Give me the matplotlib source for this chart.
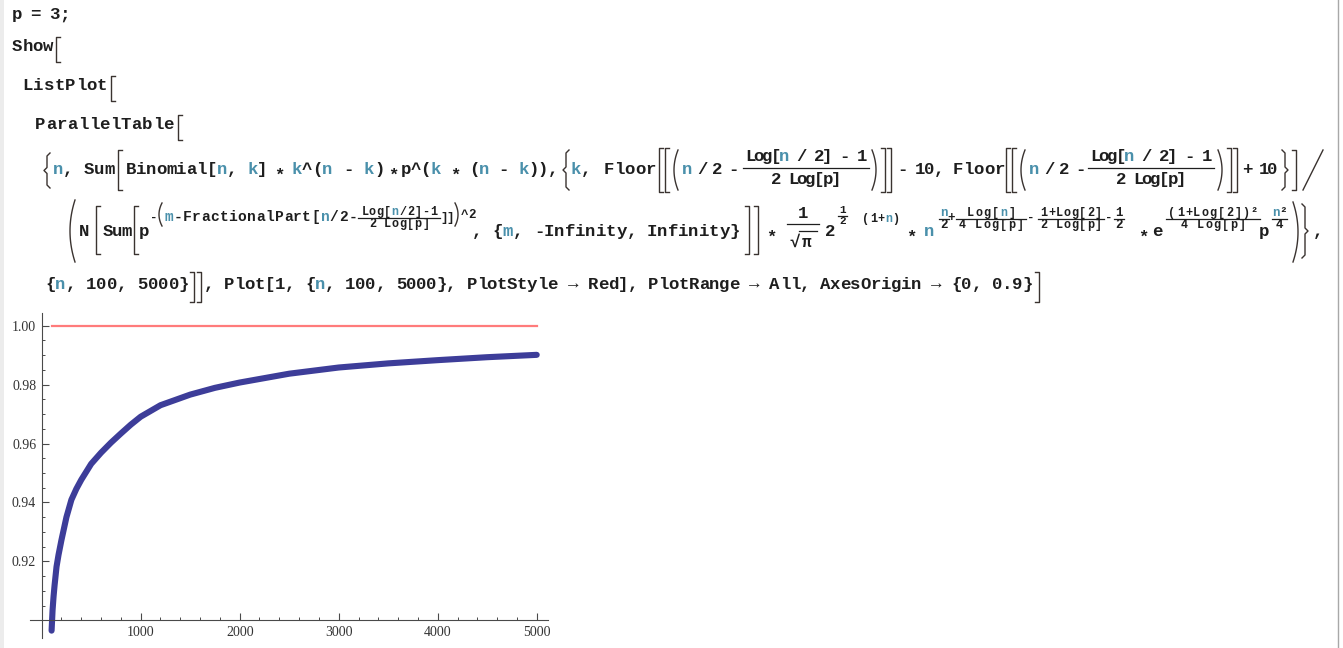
import numpy as np
import matplotlib.pyplot as plt
from matplotlib.ticker import FixedLocator

# значения
n_vals = [100, 110, 120, 130, 150, 170, 200, 250, 300, 350, 400, 500, 600,
          700, 800, 900, 1000, 1200, 1500, 1750, 2000, 2500, 3000, 3500,
          4000, 4500, 5000]
ratio = [0.8965, 0.9035, 0.9081, 0.9118, 0.9182, 0.9222, 0.9273, 0.9350,
         0.9409, 0.9446, 0.9477, 0.9531, 0.9569, 0.9603, 0.9634, 0.9664,
         0.9691, 0.9730, 0.9766, 0.9789, 0.9807, 0.9837, 0.9858, 0.9872,
         0.9883, 0.9893, 0.9901]
ref_x = [100, 5000]
ref_y = [1.0, 1.0]
x_ticks = [1000, 2000, 3000, 4000, 5000]
y_ticks = [0.92, 0.94, 0.96, 0.98, 1.00]
y_labels = ["0.92", "0.94", "0.96", "0.98", "1.00"]

W, H = 1343, 648
fig = plt.figure(figsize=(W / 100, H / 100), dpi=100, facecolor="white")

# слой для текста ячейки, координаты в пикселях
tx = fig.add_axes([0, 0, 1, 1])
tx.set_xlim(0, W)
tx.set_ylim(H, 0)
tx.axis("off")

INK = "#1e1e1e"
TEAL = "#4a90ab"
BRK = "#3a3330"
MONO = ["Liberation Mono", "DejaVu Sans Mono"]
NS, NP = 12.5, 10.2    # обычный текст: размер, шаг
SS = 9.0               # степени


def txt(x, y, s, size=NS, pitch=NP):
    teal = False
    for ch in s:
        if ch == "`":
            teal = not teal
            continue
        if ch != " ":
            dy = size * 0.45 if ch == "*" else 0
            tx.text(x + pitch / 2, y + dy, ch, ha="center", va="baseline",
                    fontsize=size, family=MONO, weight="bold",
                    color=TEAL if teal else INK)
        x += pitch
    return x


def big(x, y0, y1, kind, w=4.0, lw=1.0):
    if kind == "[":
        tx.plot([x + w, x, x, x + w], [y0, y0, y1, y1], color=BRK, lw=lw)
    elif kind == "]":
        tx.plot([x, x + w, x + w, x], [y0, y0, y1, y1], color=BRK, lw=lw)
    elif kind in "()":
        t = np.linspace(-1, 1, 40)
        ys = (y0 + y1) / 2 + t * (y1 - y0) / 2
        xs = x + w * t ** 2 if kind == "(" else x + w * (1 - t ** 2)
        tx.plot(xs, ys, color=BRK, lw=lw)
    elif kind in "{}":
        ym = (y0 + y1) / 2
        a, b = (x + w, x) if kind == "{" else (x, x + w)
        m = (a + b) / 2
        tx.plot([a, m, m, b, m, m, a],
                [y0, y0 + 3, ym - 3, ym, ym + 3, y1 - 3, y1], color=BRK, lw=lw)
    elif kind == "/":
        tx.plot([x, x + w], [y1, y0], color=BRK, lw=lw)


def frac(x, w, axis, num, den, size, pitch, up, down, lw=0.9):
    n = len(num.replace("`", "")) * pitch
    d = len(den.replace("`", "")) * pitch
    txt(x + (w - n) / 2, axis - up, num, size, pitch)
    txt(x + (w - d) / 2, axis + down, den, size, pitch)
    tx.plot([x, x + w], [axis, axis], color=INK, lw=lw)


# рамка ячейки
tx.fill_between([0, 4], 0, H, color="#ececec", lw=0)
tx.plot([1338, 1338], [0, H], color="#a8a8a8", lw=1)

# строки 1-4
txt(12, 19, "p = 3;", pitch=9.5)
txt(12, 51, "Show", pitch=10.3)
big(56, 37, 62, "[")
txt(22, 90, "ListPlot", pitch=10.7)
big(111, 76, 101, "[")
txt(35, 129, "ParallelTable", pitch=10.7)
big(178, 115, 140, "[")

# строка 5
y5, a5 = 174, 168
big(44, 153, 188, "{", w=6)
txt(53, y5, "`n`,")
txt(84, y5, "Sum")
big(118, 150, 190, "[")
txt(126, y5, "Binomial[`n`, `k`]", pitch=10.1)
txt(274, y5, "*")
txt(291, y5, "`k`^(`n` - `k`)", pitch=10.4)
txt(388, y5, "*")
txt(401, y5, "p^(`k` * (`n` - `k`)),", pitch=9.8)
big(563, 150, 190, "{", w=6)
txt(571, y5, "`k`,")
for f0 in (604, 953):
    txt(f0, y5, "Floor", pitch=10.3)
fr5 = [(659, 743, 870), (1006, 1088, 1216)]
for b0, fx, cx in fr5:
    big(b0, 148, 192, "[")
    big(b0 + 6, 148, 192, "[")
    big(b0 + 15, 150, 190, "(")
    txt(b0 + 24, y5, "`n` / 2 -", pitch=7.7)
    frac(fx, 126, a5, "Log[`n` / 2] - 1", "2 Log[p]", NS, 8.6, 7, 16)
    big(cx + 2, 150, 190, ")")
    big(cx + 11, 148, 192, "]")
    big(cx + 17, 148, 192, "]")
txt(898, y5, "- 10,", pitch=9.0)
txt(1243, y5, "+ 10", pitch=8.4)
big(1282, 150, 190, "}", w=6)
big(1292, 150, 190, "]")
big(1303, 150, 190, "/", w=20)

# строка 6
y6, ex = 236, 219
big(70, 200, 262, "(", w=5)
txt(79, y6, "N", pitch=11)
big(96, 206, 254, "[")
txt(103, y6, "Sum", pitch=9.5)
big(134, 206, 254, "[")
txt(138, y6, "p", pitch=11)
txt(150, ex + 2, "-", SS, 7)
big(159, 203, 226, "(", w=3)
txt(164, ex + 2, "`m`-FractionalPart[`n`/2-", 10.5, 9.2)
frac(358, 82, ex - 1, "Log[`n`/2]-1", "2 Log[p]", SS - 0.5, 7.6, 3, 9)
txt(441, ex + 2, "]]", SS, 6)
big(455, 203, 226, ")", w=3)
txt(461, ex - 1, "^2", SS, 7.5)
txt(472, y6, ", {`m`, -Infinity, Infinity}", pitch=10.3)
big(745, 206, 254, "]")
big(754, 206, 254, "]")
txt(766, y6, "*")
frac(787, 32, 224, "1", "", NS, NP, 6, 18)
txt(789, 247, "√", NS, 11)
tx.plot([799, 817], [231, 231], color=INK, lw=0.9)
txt(801, 247, "π", NS - 1, 11)
txt(825, y6, "2", pitch=11)
frac(838, 9, ex - 3, "1", "2", SS - 1, 7, 3, 8)
txt(862, ex + 3, "(1+`n`)", SS - 0.5, 7.6)
txt(906, y6, "*")
txt(923, y6, "`n`", pitch=12)
frac(939, 10, ex, "`n`", "2", SS, 8, 3, 9)
txt(948, ex + 2, "+", SS, 7)
frac(956, 70, ex, "Log[`n`]", "4 Log[p]", SS - 0.5, 8.3, 3, 9)
txt(1027, ex + 2, "-", SS, 7)
frac(1038, 66, ex, "1+Log[2]", "2 Log[p]", SS - 0.5, 7.8, 3, 9)
txt(1105, ex + 2, "-", SS, 7)
frac(1114, 10, ex, "1", "2", SS, 8, 3, 9)
txt(1138, y6, "*")
txt(1152, y6, "e", pitch=11)
frac(1166, 94, ex, "(1+Log[2])²", "4 Log[p]", SS - 0.5, 8.2, 3, 9)
txt(1258, y6, "p", pitch=11)
frac(1272, 15, ex, "`n`²", "4", SS, 7.5, 3, 9)
big(1293, 202, 262, ")", w=5)
big(1302, 204, 258, "}", w=6)
txt(1313, y6, ",")

# строка 7
y7 = 289
txt(45, y7, "{`n`, 100, 5000}", pitch=10.3)
big(190, 272, 302, "]")
big(197, 272, 302, "]")
txt(204, y7, ", Plot[1, {`n`, 100, 5000}, PlotStyle → Red], PlotRange → All, "
             "AxesOrigin → {0, 0.9}", pitch=10.1)
big(1035, 272, 302, "]")

# график
ax = fig.add_axes([30 / W, 1 - 638 / H, (548 - 30) / W, (638 - 313) / H])
ax.patch.set_alpha(0)
ax.set_xlim(-118, 5114)
ax.set_ylim(0.894, 1.0043)
for s in ("top", "right"):
    ax.spines[s].set_visible(False)
ax.spines["left"].set_position(("data", 0))
ax.spines["bottom"].set_position(("data", 0.9))
for s in ("left", "bottom"):
    ax.spines[s].set_color("#4a4a4a")
    ax.spines[s].set_linewidth(0.8)

ax.plot(ref_x, ref_y, color="#ff7b7b", lw=1.6)
ax.plot(n_vals, ratio, color="#3d3d99", lw=4.4,
        solid_capstyle="round", solid_joinstyle="round")

ax.set_xticks(x_ticks)
ax.set_xticklabels([str(v) for v in x_ticks])
ax.set_yticks(y_ticks)
ax.set_yticklabels(y_labels)
ax.xaxis.set_minor_locator(FixedLocator([v for v in range(200, 5001, 200) if v % 1000]))
ax.yaxis.set_minor_locator(FixedLocator([0.905, 0.91, 0.915, 0.925, 0.93, 0.935, 0.945,
                                         0.95, 0.955, 0.965, 0.97, 0.975, 0.985,
                                         0.99, 0.995]))
ax.tick_params(which="major", direction="in", length=5, width=0.8,
               color="#4a4a4a", labelsize=10, labelcolor="#333333", pad=4)
ax.tick_params(which="minor", direction="in", length=2.5, width=0.7, color="#4a4a4a")
for lab in ax.get_xticklabels() + ax.get_yticklabels():
    lab.set_family("Liberation Serif")

fig.savefig("out.png", dpi=100, facecolor="white")
